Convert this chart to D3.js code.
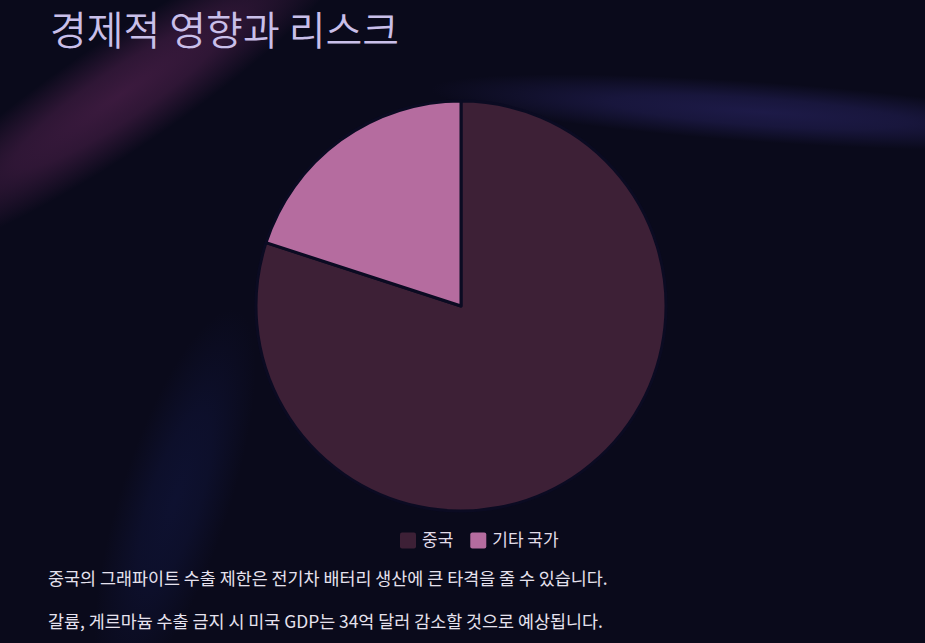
<!DOCTYPE html>
<html><head><meta charset="utf-8">
<script src="https://cdn.jsdelivr.net/npm/d3@7"></script>
<style>
html,body{margin:0;padding:0;background:#0a0a1a;overflow:hidden;}
svg{display:block;}
</style></head>
<body>
<svg id="c" width="925" height="643"></svg>
<script>
const categories = ["중국", "기타 국가"];
const values = [80, 20];
const colors = ["#3d2036", "#b56c9f"];
const title = "경제적 영향과 리스크";
const notes = [
  "중국의 그래파이트 수출 제한은 전기차 배터리 생산에 큰 타격을 줄 수 있습니다.",
  "갈륨, 게르마늄 수출 금지 시 미국 GDP는 34억 달러 감소할 것으로 예상됩니다."
];

const svg = d3.select("#c");
const W = 925, H = 643;
const font = "'Noto Sans CJK KR','Noto Sans',sans-serif";

const defs = svg.append("defs");
function grad(id, col, op) {
  const g = defs.append("radialGradient").attr("id", id);
  g.append("stop").attr("offset","0%").attr("stop-color",col).attr("stop-opacity",op);
  g.append("stop").attr("offset","45%").attr("stop-color",col).attr("stop-opacity",op*0.75);
  g.append("stop").attr("offset","100%").attr("stop-color",col).attr("stop-opacity",0);
}
grad("gPink", "#3b1a3e", 1);
grad("gBlueR", "#1e1b4a", 0.95);
grad("gBlueB", "#131a4a", 0.45);

svg.append("rect").attr("width",W).attr("height",H).attr("fill","#0a0a1b");
const glow = svg.append("g");
glow.append("ellipse").attr("cx",120).attr("cy",95).attr("rx",280).attr("ry",55)
  .attr("transform","rotate(-34 120 95)").attr("fill","url(#gPink)");
glow.append("ellipse").attr("cx",760).attr("cy",112).attr("rx",330).attr("ry",30)
  .attr("transform","rotate(4 760 112)").attr("fill","url(#gBlueR)");
glow.append("ellipse").attr("cx",175).attr("cy",500).attr("rx",55).attr("ry",200)
  .attr("transform","rotate(18 175 500)").attr("fill","url(#gBlueB)");

svg.append("text").attr("x",50).attr("y",45).text(title)
  .attr("font-family",font).attr("font-size",40).attr("font-weight",350)
  .attr("fill","#c9bfe9");

const cx = 461, cy = 306, R = 205;
const pie = d3.pie().sort(null).value(d => d)(values);
const arc = d3.arc().innerRadius(0).outerRadius(R);
const color = d3.scaleOrdinal().domain(categories).range(colors);
svg.append("g").attr("transform",`translate(${cx},${cy})`)
  .selectAll("path").data(pie).join("path")
  .attr("d", arc)
  .attr("fill", (d,i) => color(categories[i]))
  .attr("stroke", "#0b0b22").attr("stroke-width", 3).attr("stroke-linejoin","round");

// legend
const lg = svg.append("g").attr("font-family",font).attr("font-size",17);
let lx = 400;
categories.forEach((c,i) => {
  lg.append("rect").attr("x",lx).attr("y",532.5).attr("width",16).attr("height",16).attr("rx",2)
    .attr("fill", color(c));
  const t = lg.append("text").attr("x",lx+22).attr("y",545.5).text(c).attr("fill","#e2ddea");
  lx += 22 + t.node().getComputedTextLength() + 17;
});

notes.forEach((n,i) => {
  svg.append("text").attr("x",48).attr("y",585 + i*43).text(n)
    .attr("font-family",font).attr("font-size",17.4).attr("fill","#e6e2ee");
});
</script>
</body></html>
